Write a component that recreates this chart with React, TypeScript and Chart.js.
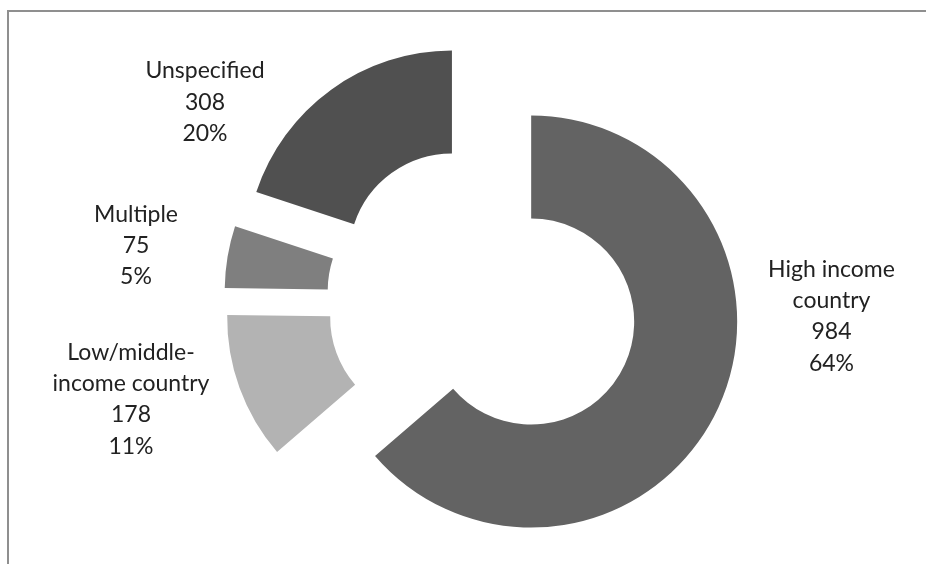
import React, { useEffect, useRef } from "react";
import { Chart, registerables } from "chart.js";

Chart.register(...registerables);

// ---- data ----
const categories = ["High income\ncountry", "Low/middle-\nincome country", "Multiple", "Unspecified"];
const counts = [984, 178, 75, 308];
const percentLabels = ["64%", "11%", "5%", "20%"];
const sliceColors = ["#636363", "#b3b3b3", "#7f7f7f", "#505050"];

// ---- layout ----
const W = 926;
const H = 564;
const EXPLODE = 53;
const OUTER_RADIUS = 206;
const LABEL_OFFSETS: [number, number][] = [
  [348.5, -22.5],
  [-352, 60.5],
  [-347, -77.5],
  [-278, -221.2],
];
const LABEL_FONT = "23px Lato";
const LINE_H = 31.2;

const explodePlugin = {
  id: "explodeSlices",
  beforeDatasetDraw(_chart: any, args: any) {
    args.meta.data.forEach((arc: any) => {
      const half = (arc.startAngle + arc.endAngle) / 2;
      arc.x += Math.cos(half) * EXPLODE;
      arc.y += Math.sin(half) * EXPLODE;
    });
  },
  afterDatasetDraw(_chart: any, args: any) {
    args.meta.data.forEach((arc: any) => {
      const half = (arc.startAngle + arc.endAngle) / 2;
      arc.x -= Math.cos(half) * EXPLODE;
      arc.y -= Math.sin(half) * EXPLODE;
    });
  },
};

const labelPlugin = {
  id: "sliceLabels",
  afterDraw(chart: any) {
    const { ctx, chartArea } = chart;
    const cx = (chartArea.left + chartArea.right) / 2;
    const cy = (chartArea.top + chartArea.bottom) / 2;
    ctx.save();
    ctx.font = LABEL_FONT;
    ctx.fillStyle = "#222222";
    ctx.textAlign = "center";
    ctx.textBaseline = "alphabetic";
    categories.forEach((cat, i) => {
      const lines = [...cat.split("\n"), String(counts[i]), percentLabels[i]];
      const [dx, dy] = LABEL_OFFSETS[i];
      lines.forEach((ln, j) => {
        ctx.fillText(ln, cx + dx, cy + dy + j * LINE_H);
      });
    });
    ctx.restore();
  },
};

export default function App() {
  const ref = useRef<HTMLCanvasElement | null>(null);

  useEffect(() => {
    if (!ref.current) return;
    const chart = new Chart(ref.current, {
      type: "doughnut",
      data: {
        labels: categories.map((c) => c.replace("\n", " ")),
        datasets: [
          {
            data: counts,
            backgroundColor: sliceColors,
            borderWidth: 0,
            radius: OUTER_RADIUS,
          } as any,
        ],
      },
      options: {
        responsive: false,
        animation: false,
        events: [],
        cutout: "50%",
        layout: { padding: { left: 40, right: 0, top: 35, bottom: 0 } },
        plugins: {
          legend: { display: false },
          tooltip: { enabled: false },
        },
      },
      plugins: [explodePlugin, labelPlugin],
    });
    return () => chart.destroy();
  }, []);

  return (
    <div
      style={{
        position: "absolute",
        left: 0,
        top: 0,
        width: W,
        height: H,
        overflow: "hidden",
        background: "#ffffff",
      }}
    >
      <canvas ref={ref} width={W} height={H} style={{ display: "block", position: "absolute", left: 0, top: 0 }} />
      <div
        style={{
          position: "absolute",
          left: 7,
          top: 10,
          width: W + 20,
          height: H + 20,
          borderTop: "2px solid #8f8f8f",
          borderLeft: "2px solid #8f8f8f",
          boxSizing: "border-box",
          pointerEvents: "none",
        }}
      />
    </div>
  );
}
